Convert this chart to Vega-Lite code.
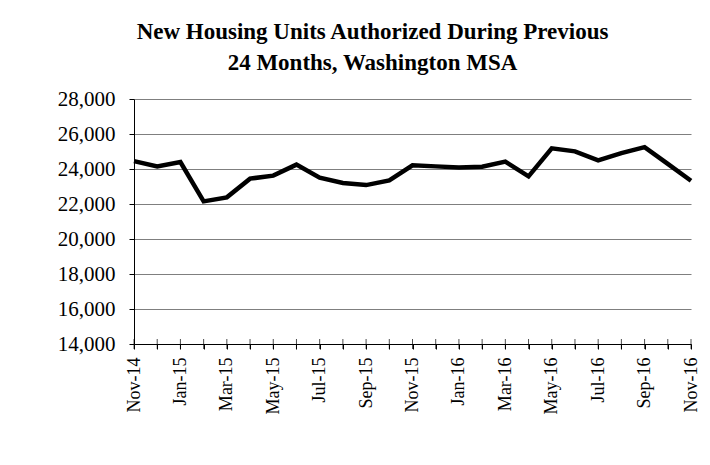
{
  "$schema": "https://vega.github.io/schema/vega-lite/v6.json",
  "width": 557,
  "height": 245,
  "autosize": {"type": "none"},
  "padding": {"left": 134, "top": 99, "right": 19, "bottom": 121},
  "background": "white",
  "title": {
    "text": ["New Housing Units Authorized During Previous", "24 Months, Washington MSA"],
    "font": "Liberation Serif",
    "fontSize": 23,
    "fontWeight": "bold",
    "color": "black",
    "anchor": "middle",
    "dx": -40,
    "offset": 13,
    "lineHeight": 31
  },
  "data": {
    "values": [
      {"m": "Nov-14", "v": 24450},
      {"m": "Dec-14", "v": 24150},
      {"m": "Jan-15", "v": 24400},
      {"m": "Feb-15", "v": 22150},
      {"m": "Mar-15", "v": 22380},
      {"m": "Apr-15", "v": 23450},
      {"m": "May-15", "v": 23620},
      {"m": "Jun-15", "v": 24250},
      {"m": "Jul-15", "v": 23500},
      {"m": "Aug-15", "v": 23200},
      {"m": "Sep-15", "v": 23080},
      {"m": "Oct-15", "v": 23350},
      {"m": "Nov-15", "v": 24210},
      {"m": "Dec-15", "v": 24150},
      {"m": "Jan-16", "v": 24090},
      {"m": "Feb-16", "v": 24130},
      {"m": "Mar-16", "v": 24420},
      {"m": "Apr-16", "v": 23580},
      {"m": "May-16", "v": 25180},
      {"m": "Jun-16", "v": 25010},
      {"m": "Jul-16", "v": 24490},
      {"m": "Aug-16", "v": 24910},
      {"m": "Sep-16", "v": 25250},
      {"m": "Oct-16", "v": 24290},
      {"m": "Nov-16", "v": 23330}
    ]
  },
  "encoding": {
    "x": {
      "field": "m",
      "type": "ordinal",
      "sort": null,
      "scale": {"type": "point", "padding": 0},
      "axis": {
        "title": null,
        "labelAngle": -90,
        "labelFont": "Liberation Serif",
        "labelFontSize": 18,
        "labelColor": "black",
        "labelPadding": 8,
        "labelOverlap": false,
        "labelExpr": "indexof(['Nov-14','Jan-15','Mar-15','May-15','Jul-15','Sep-15','Nov-15','Jan-16','Mar-16','May-16','Jul-16','Sep-16','Nov-16'], datum.value) >= 0 ? datum.value : ''",
        "domainColor": "black",
        "domainWidth": 1,
        "tickColor": "black",
        "tickSize": 5,
        "grid": false
      }
    },
    "y": {
      "field": "v",
      "type": "quantitative",
      "scale": {"domain": [14000, 28000], "nice": false, "zero": false},
      "axis": {
        "title": null,
        "values": [14000, 16000, 18000, 20000, 22000, 24000, 26000, 28000],
        "format": ",d",
        "labelOverlap": false,
        "labelFont": "Liberation Serif",
        "labelFontSize": 21,
        "labelColor": "black",
        "labelPadding": 14,
        "domainColor": "black",
        "tickColor": "black",
        "tickSize": 5,
        "gridColor": "#7f7f7f",
        "gridWidth": 1
      }
    }
  },
  "layer": [
    {
      "mark": {"type": "line", "color": "black", "strokeWidth": 4.5, "strokeJoin": "miter"}
    },
    {
      "mark": {"type": "tick", "orient": "vertical", "color": "black", "size": 10, "thickness": 1},
      "encoding": {
        "y": {"datum": 14000}
      }
    }
  ],
  "config": {
    "view": {"stroke": null}
  }
}
